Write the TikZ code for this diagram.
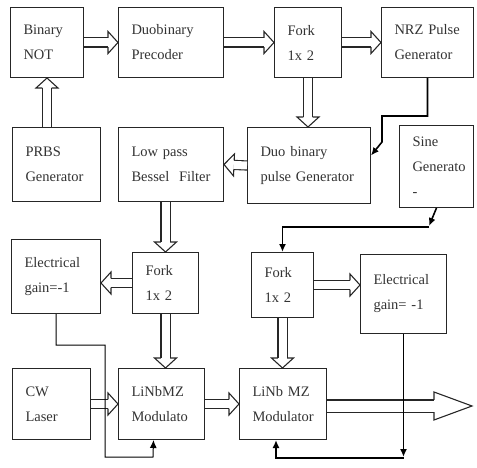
\documentclass[tikz,border=0pt]{standalone}
\usepackage{fontspec}
\setmainfont{Liberation Serif}
\usetikzlibrary{arrows.meta}
\newcommand{\blkfont}{\fontsize{14.5}{25}\selectfont}
% open head for the double (hollow) arrows
\pgfdeclarearrow{
  name = Hollow,
  defaults = {length = 10pt, width = 22pt, inset = 4.55pt},
  cache = false,
  setup code = {
    \pgfarrowssettipend{0pt}
    \pgfarrowssetbackend{-\pgfarrowlength}
    \pgfarrowssetlineend{-\pgfarrowlength}
    \pgfarrowssetvisualbackend{-\pgfarrowlength}
    \pgfarrowshullpoint{0pt}{0pt}
    \pgfarrowsupperhullpoint{-\pgfarrowlength}{.5\pgfarrowwidth}
    \pgfarrowssavethe\pgfarrowlength
    \pgfarrowssavethe\pgfarrowwidth
    \pgfarrowssavethe\pgfarrowinset
  },
  drawing code = {
    \pgfsetlinewidth{1.1pt}
    \pgfsetmiterjoin
    \pgfpathmoveto{\pgfpoint{-\pgfarrowlength}{\pgfarrowinset}}
    \pgfpathlineto{\pgfpoint{-\pgfarrowlength}{.5\pgfarrowwidth}}
    \pgfpathlineto{\pgfpointorigin}
    \pgfpathlineto{\pgfpoint{-\pgfarrowlength}{-.5\pgfarrowwidth}}
    \pgfpathlineto{\pgfpoint{-\pgfarrowlength}{-\pgfarrowinset}}
    \pgfusepathqstroke
  }
}

\begin{document}
\begin{tikzpicture}[x=1pt, y=-1pt, font=\blkfont, >=Latex]
  \tikzset{
    blk/.style 2 args={draw=black!85, line width=1pt, anchor=north west, align=left,
      inner xsep=13pt, inner ysep=0pt, text=black!80, text width=#1, minimum height=#2},
    dbl/.style={draw=black!85, double distance=8pt, line width=1.1pt, -{Hollow}},
    sig/.style={line width=1.6pt, -{Latex[length=8pt, width=7pt]}},
  }
  \useasboundingbox (0,0) rectangle (477,468);
  % row 1: bit source chain
  \node[blk={47pt}{70pt}] (binnot) at (10,7) {Binary\\NOT};
  \node[blk={79pt}{70pt}] (precoder) at (118,7) {Duobinary\\Precoder};
  \node[blk={41pt}{70pt}] (forkT) at (274,7) {Fork\\1x 2};
  \node[blk={66pt}{70pt}] (nrz) at (381,7) {NRZ Pulse\\Generator};
  % row 2
  \node[blk={62pt}{74pt}] (prbs) at (12,127) {PRBS\\Generator};
  \node[blk={79pt}{74pt}] (lowpass) at (118,127) {Low pass\\Bessel~ Filter};
  \node[blk={97pt}{76pt}] (pulsegen) at (247,127) {Duo binary\\pulse Generator};
  \node[blk={48pt}{82pt}] (sine) at (399,125) {Sine\\Generato\\-};
  % row 3: forks and inverters
  \node[blk={63pt}{74pt}] (gainL) at (11,239) {Electrical\\gain=-1};
  \node[blk={40pt}{61pt}] (forkL) at (132,252) {Fork\\1x 2};
  \node[blk={36pt}{65pt}] (forkR) at (251,252) {Fork\\1x 2};
  \node[blk={60pt}{79pt}] (gainR) at (360,254) {Electrical\\gain= -1};
  % row 4: optical path
  \node[blk={52pt}{71pt}] (cw) at (12,368) {CW\\Laser};
  \node[blk={60pt}{71pt}] (modL) at (118,368) {LiNbMZ\\Modulato};
  \node[blk={61pt}{71pt}] (modR) at (239,368) {LiNb MZ\\Modulator};
  \coordinate (outend) at (472,406);

  % hollow double arrows
  \draw[dbl] (binnot.east) -- (precoder.west);
  \draw[dbl] (precoder.east) -- (forkT.west);
  \draw[dbl] (forkT.east) -- (nrz.west);
  \draw[dbl] (binnot.south |- prbs.north) -- (binnot.south);
  \draw[dbl] (forkT.south) -- (forkT.south |- pulsegen.north);
  \draw[dbl] (pulsegen.west) -- (lowpass.east);
  \draw[dbl] (forkL.north |- lowpass.south) -- (forkL.north);
  \draw[dbl] (forkL.west) -- (forkL.west -| gainL.east);
  \draw[dbl] (forkL.south) -- (forkL.south |- modL.north);
  \draw[dbl] (forkR.east) -- (forkR.east -| gainR.west);
  \draw[dbl] (forkR.south) -- (forkR.south |- modR.north);
  \draw[dbl] (cw.east) -- (cw.east -| modL.west);
  \draw[dbl] (modL.east) -- (modR.west);
  \draw[dbl, double distance=11pt, -{Hollow[length=38pt, width=28pt, inset=6.05pt]}] (modR.east |- outend) -- (outend);

  % electrical drive lines
  \draw[sig] (nrz.south) |- (382,116) -- (382,142) -- ([yshift=10pt]pulsegen.east);
  \draw[sig] (sine.south) -- (429,226);
  \draw[sig] (429,227) -| (forkR.north);
  \draw[sig, line width=1pt] (gainL.south) |- (105,345) |- (153,457) -- ([xshift=-8pt]modL.south);
  \draw[sig] (gainR.south) -- (gainR.south |- 0,457);
  \draw[sig] (gainR.south |- 0,458) -| ([xshift=-7pt]modR.south);
\end{tikzpicture}
\end{document}
